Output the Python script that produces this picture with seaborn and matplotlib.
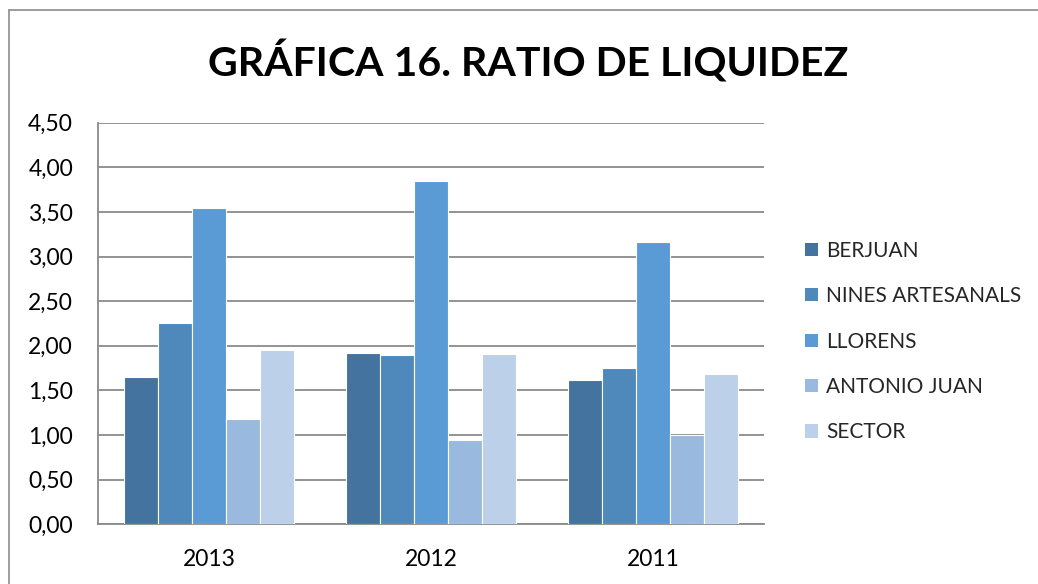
import matplotlib
matplotlib.use("Agg")
import matplotlib.pyplot as plt
import seaborn as sns
import pandas as pd
from matplotlib.lines import Line2D
from matplotlib.ticker import FuncFormatter

years = ["2013", "2012", "2011"]
companies = ["BERJUAN", "NINES ARTESANALS", "LLORENS", "ANTONIO JUAN", "SECTOR"]
berjuan = [1.65, 1.92, 1.62]
nines = [2.26, 1.90, 1.75]
llorens = [3.54, 3.85, 3.16]
antonio = [1.18, 0.95, 1.00]
sector = [1.95, 1.91, 1.68]
colors = ["#44739f", "#4f88bb", "#5b9bd5", "#99b9df", "#bdd0ea"]

series = [berjuan, nines, llorens, antonio, sector]
rows = []
for comp, vals in zip(companies, series):
    for y, v in zip(years, vals):
        rows.append({"year": y, "company": comp, "value": v})
df = pd.DataFrame(rows)

sns.set_theme(style="white")
plt.rcParams["font.family"] = ["Lato", "DejaVu Sans"]

fig = plt.figure(figsize=(10.38, 5.84), dpi=100)
ax = fig.add_axes([98 / 1038, 1 - 524.3 / 584, (764 - 98) / 1038, (524.3 - 122.7) / 584])

sns.barplot(data=df, x="year", y="value", hue="company", order=years,
            hue_order=companies, palette=colors, saturation=1, width=0.77,
            edgecolor="white", linewidth=0.8, ax=ax, errorbar=None, zorder=3)

ax.set_ylim(0, 4.5)
ax.set_yticks([i * 0.5 for i in range(10)])
ax.yaxis.set_major_formatter(FuncFormatter(lambda v, p: f"{v:.2f}".replace(".", ",")))
ax.grid(axis="y", color="#8a8a8a", linewidth=1.3, zorder=0)
ax.set_axisbelow(True)
for s in ["top", "right"]:
    ax.spines[s].set_visible(False)
for s in ["left", "bottom"]:
    ax.spines[s].set_color("#8a8a8a")
    ax.spines[s].set_linewidth(1.3)
ax.set_xlabel("")
ax.set_ylabel("")
ax.tick_params(axis="y", length=0, pad=18, labelsize=16.5, labelcolor="black")
ax.tick_params(axis="x", length=0, pad=18, labelsize=16.5, labelcolor="black")

leg = ax.legend(loc="center left", bbox_to_anchor=(805 / 1038, 1 - 341.5 / 584),
                bbox_transform=fig.transFigure, frameon=False, fontsize=15,
                handlelength=0.6, handleheight=0.6, handletextpad=0.4,
                labelspacing=1.22, borderpad=0, borderaxespad=0)
for h in leg.legend_handles:
    h.set_edgecolor("none")

fig.text(528 / 1038, 1 - 62 / 584, "GRÁFICA 16. RATIO DE LIQUIDEZ",
         ha="center", va="center", fontsize=29.5, fontweight="bold", color="black")

fig.add_artist(Line2D([9 / 1038, 1], [1 - 10 / 584, 1 - 10 / 584],
                      transform=fig.transFigure, color="#8c8c8c", linewidth=1.2))
fig.add_artist(Line2D([9 / 1038, 9 / 1038], [0, 1 - 10 / 584],
                      transform=fig.transFigure, color="#8c8c8c", linewidth=1.2))

fig.savefig("out.png", dpi=100)
